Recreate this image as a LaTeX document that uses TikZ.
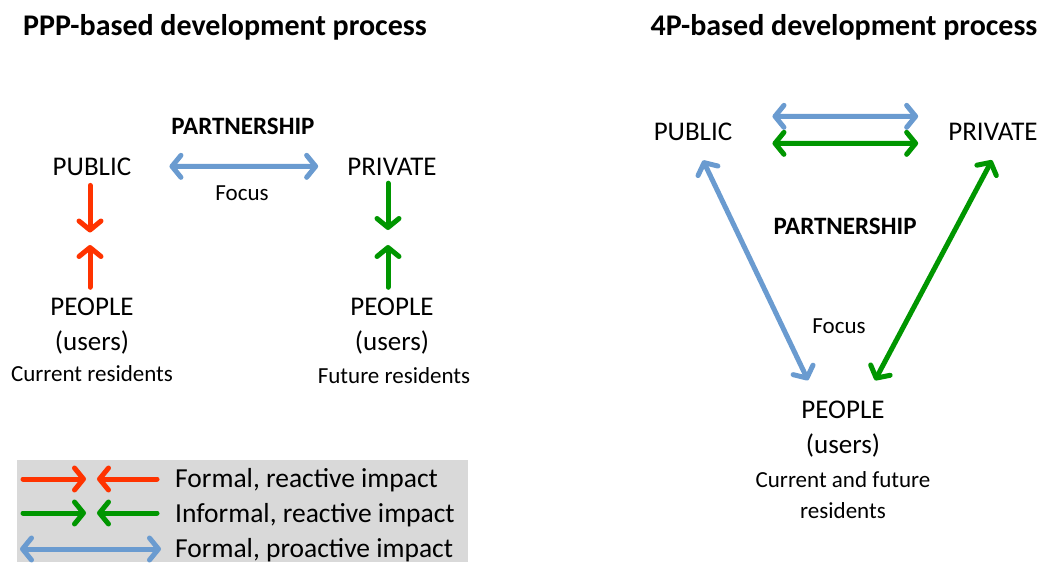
\documentclass[tikz,border=0pt]{standalone}
\usepackage{fontspec}
\setmainfont{Carlito}
\usetikzlibrary{arrows.meta}

\definecolor{formalred}{RGB}{255,51,0}
\definecolor{informalgreen}{RGB}{0,150,0}
\definecolor{proactiveblue}{RGB}{106,155,208}
\definecolor{legendgray}{RGB}{217,217,217}

\begin{document}
\begin{tikzpicture}[x=1pt, y=-1pt,
    mainlbl/.style = {font=\fontsize{27}{30}\selectfont, anchor=base, inner sep=0pt},
    sublbl/.style = {font=\fontsize{23}{26}\selectfont, anchor=base, inner sep=0pt},
    heading/.style = {font=\fontsize{30}{33}\selectfont\bfseries, anchor=base, inner sep=0pt},
    partner/.style = {font=\fontsize{25}{28}\selectfont\bfseries, anchor=base, inner sep=0pt},
    keytext/.style = {font=\fontsize{27.5}{30}\selectfont, anchor=base west, inner sep=0pt},
    tip/.tip = {Straight Barb[length=9pt, width=22pt, round]},
    impact/.style = {line width=5pt, line cap=round, line join=round},
    formal/.style = {impact, formalred, -tip},
    informal/.style = {impact, informalgreen, -tip},
    informalboth/.style = {impact, informalgreen, tip-tip},
    proactive/.style = {impact, proactiveblue, tip-tip} ]
        \useasboundingbox (0,0) rectangle (1043,562);

        % PPP side
        \node[heading] (titleL) at (225,35) {PPP-based development process};
        \node[partner] (partL) at (243,134) {PARTNERSHIP};
        \node[mainlbl] (pubL) at (92,175) {PUBLIC};
        \node[mainlbl] (privL) at (392,175) {PRIVATE};
        \node[sublbl] (focusL) at (242,200) {Focus};
        \node[mainlbl] (peopL1) at (92,315) {PEOPLE};
        \node[mainlbl] (usersL1) at (92,350) {(users)};
        \node[sublbl] (curL) at (92,381) {Current residents};
        \node[mainlbl] (peopL2) at (392,315) {PEOPLE};
        \node[mainlbl] (usersL2) at (392,350) {(users)};
        \node[sublbl] (futL) at (394,383) {Future residents};

        \coordinate (redmid) at (90,238.5);
        \coordinate (greenmid) at (388,238);

        \draw[proactive, shorten <=38pt, shorten >=29pt] (pubL.east) -- (privL.west);
        \draw[formal, shorten <=10pt, shorten >=6pt] ([xshift=-2pt]pubL.south) -- (redmid);
        \draw[formal, shorten <=10pt, shorten >=6.5pt] ([xshift=-2pt]peopL1.north) -- (redmid);
        \draw[informal, shorten <=8pt, shorten >=8pt] ([xshift=-4pt]privL.south) -- (greenmid);
        \draw[informal, shorten <=10pt, shorten >=7pt] ([xshift=-4pt]peopL2.north) -- (greenmid);

        % 4P side
        \node[heading] (titleR) at (844,35) {4P-based development process};
        \node[mainlbl] (pubR) at (693,140) {PUBLIC};
        \node[mainlbl] (privR) at (993,140) {PRIVATE};
        \node[partner] (partR) at (845,234) {PARTNERSHIP};
        \node[sublbl] (focusR) at (839,333) {Focus};
        \node[mainlbl] (peopR) at (843,418) {PEOPLE};
        \node[mainlbl] (usersR) at (843,453) {(users)};
        \node[sublbl] (residR1) at (843,487) {Current and future};
        \node[sublbl] (residR2) at (843,518) {residents};

        \draw[proactive, shorten <=40pt, shorten >=30pt] ([yshift=15pt]pubR.east) -- ([yshift=15pt]privR.west);
        \draw[informalboth, shorten <=40pt, shorten >=30pt] ([yshift=-12pt]pubR.east) -- ([yshift=-12pt]privR.west);
        \draw[proactive] ([xshift=10pt, yshift=-20pt]pubR.south) -- ([xshift=-35pt, yshift=20pt]peopR.north);
        \draw[informalboth] ([xshift=-1pt, yshift=-20pt]privR.south) -- ([xshift=32pt, yshift=20pt]peopR.north);

        % legend
        \fill[legendgray] (17,460) rectangle (468,562);
        \node[keytext] (keyA) at (175,487) {Formal, reactive impact};
        \node[keytext] (keyB) at (175,522) {Informal, reactive impact};
        \node[keytext] (keyC) at (175,557) {Formal, proactive impact};
        \draw[formal] (23,479) -- (86,479);
        \draw[formal] (157,479) -- (97,479);
        \draw[informal] (23,513) -- (86,513);
        \draw[informal] (157,513) -- (97,513);
        \draw[proactive] (20,549) -- (161,549);

    \end{tikzpicture}
\end{document}
